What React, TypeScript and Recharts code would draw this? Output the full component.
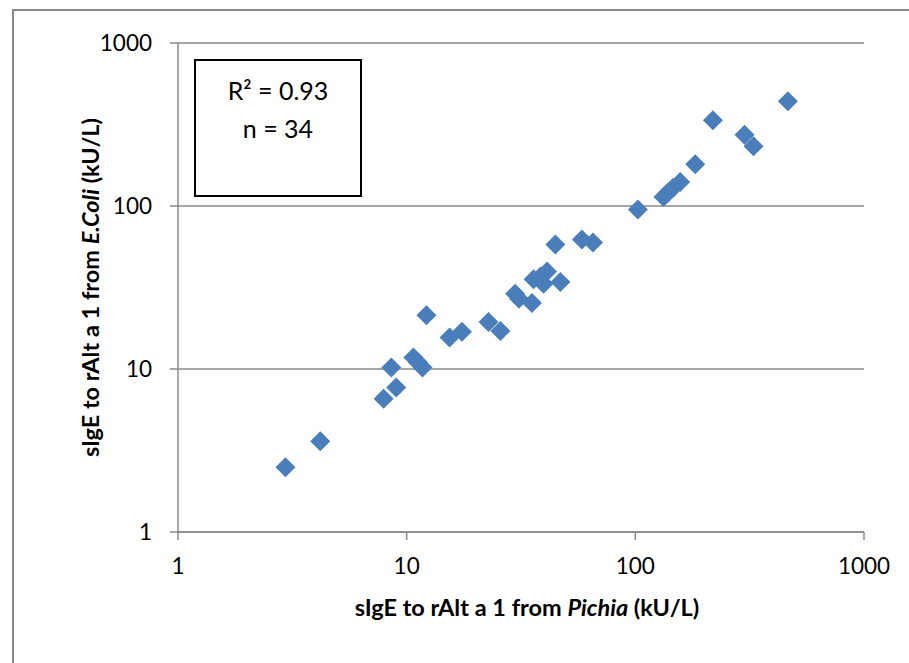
import { ScatterChart, Scatter, XAxis, YAxis, CartesianGrid } from 'recharts';

// sIgE to rAlt a 1, kU/L — Pichia-produced (x) vs E. coli-produced (y)
const pichia = [
  2.95, 4.19, 7.93, 9.0, 8.57, 10.7, 11.2, 11.73, 12.2, 15.4, 17.45, 22.8,
  25.7, 29.8, 31.0, 35.3, 35.9, 38.5, 41.1, 39.7, 47.0, 44.7, 58.4, 65.3,
  102.6, 132.8, 139.0, 146.0, 157.1, 182.8, 218.4, 300.3, 328.7, 464.7,
];
const eColi = [
  2.5, 3.6, 6.58, 7.69, 10.2, 11.75, 11.0, 10.2, 21.4, 15.6, 16.9, 19.4,
  17.1, 29.0, 27.0, 25.4, 35.5, 37.0, 39.7, 33.4, 34.2, 58.0, 62.2, 59.7,
  95.1, 113.5, 121.0, 129.0, 140.4, 180.3, 335.6, 274.0, 232.5, 438.8,
];
const logTicks = [1, 10, 100, 1000];
const statLines = ['R² = 0.93', 'n = 34'];

const points = pichia.map((x, i) => ({ x, y: eColi[i] }));

const FONT = 'Lato, "Open Sans", sans-serif';
const GRID = '#8a8a8a';
const MARKER = '#4a7ebb';

function Diamond(props: any) {
  const { cx, cy } = props;
  const r = 10;
  return (
    <polygon
      points={`${cx},${cy - r} ${cx + r},${cy} ${cx},${cy + r} ${cx - r},${cy}`}
      fill={MARKER}
    />
  );
}

function XTitle({ viewBox }: any) {
  const cx = viewBox.x + viewBox.width / 2 + 6;
  const cy = viewBox.y + 75;
  return (
    <text x={cx} y={cy} textAnchor="middle" dominantBaseline="central"
      fontFamily={FONT} fontWeight={700} fontSize={23.5} fill="#000">
      sIgE to rAlt a 1 from <tspan fontStyle="italic">Pichia</tspan> (kU/L)
    </text>
  );
}

function YTitle({ viewBox }: any) {
  const cx = viewBox.x - 28;
  const cy = viewBox.y + viewBox.height / 2;
  return (
    <text x={cx} y={cy} transform={`rotate(-90, ${cx}, ${cy})`} textAnchor="middle"
      dominantBaseline="central" fontFamily={FONT} fontWeight={700} fontSize={23.5} fill="#000">
      sIgE to rAlt a 1 from <tspan fontStyle="italic">E.Coli</tspan> (kU/L)
    </text>
  );
}

const tickStyle = { fill: '#000', fontSize: 22.5, fontFamily: FONT };

export default function App() {
  return (
    <div style={{ position: 'absolute', left: 0, top: 0, width: 909, height: 663, overflow: 'hidden', background: '#fff' }}>
      <div style={{ position: 'absolute', left: 12, top: 9, width: 909, height: 663, border: `2px solid ${GRID}`, boxSizing: 'border-box' }} />
      <ScatterChart width={909} height={663} margin={{ top: 43, right: 45, left: 118, bottom: 31 }}>
        <CartesianGrid horizontal vertical={false} stroke={GRID} strokeWidth={1.5} />
        <XAxis
          type="number"
          dataKey="x"
          scale="log"
          domain={[1, 1000]}
          ticks={logTicks}
          allowDataOverflow
          height={100}
          stroke={GRID}
          strokeWidth={1.5}
          tickSize={8}
          tickMargin={18}
          tick={tickStyle}
          label={{ content: (p: any) => <XTitle viewBox={p.viewBox} /> }}
        />
        <YAxis
          type="number"
          dataKey="y"
          scale="log"
          domain={[1, 1000]}
          ticks={logTicks}
          allowDataOverflow
          width={60}
          stroke={GRID}
          strokeWidth={1.5}
          tickSize={8}
          tickMargin={18}
          tick={tickStyle}
          label={{ content: (p: any) => <YTitle viewBox={p.viewBox} /> }}
        />
        <Scatter data={points} shape={Diamond} isAnimationActive={false} />
      </ScatterChart>
      <div style={{
        position: 'absolute', left: 194, top: 59, width: 168, height: 138,
        border: '2px solid #000', boxSizing: 'border-box', paddingTop: 10,
        fontFamily: FONT, fontSize: 25, lineHeight: '38px', textAlign: 'center', color: '#000',
      }}>
        {statLines.map((s) => <div key={s}>{s}</div>)}
      </div>
    </div>
  );
}
